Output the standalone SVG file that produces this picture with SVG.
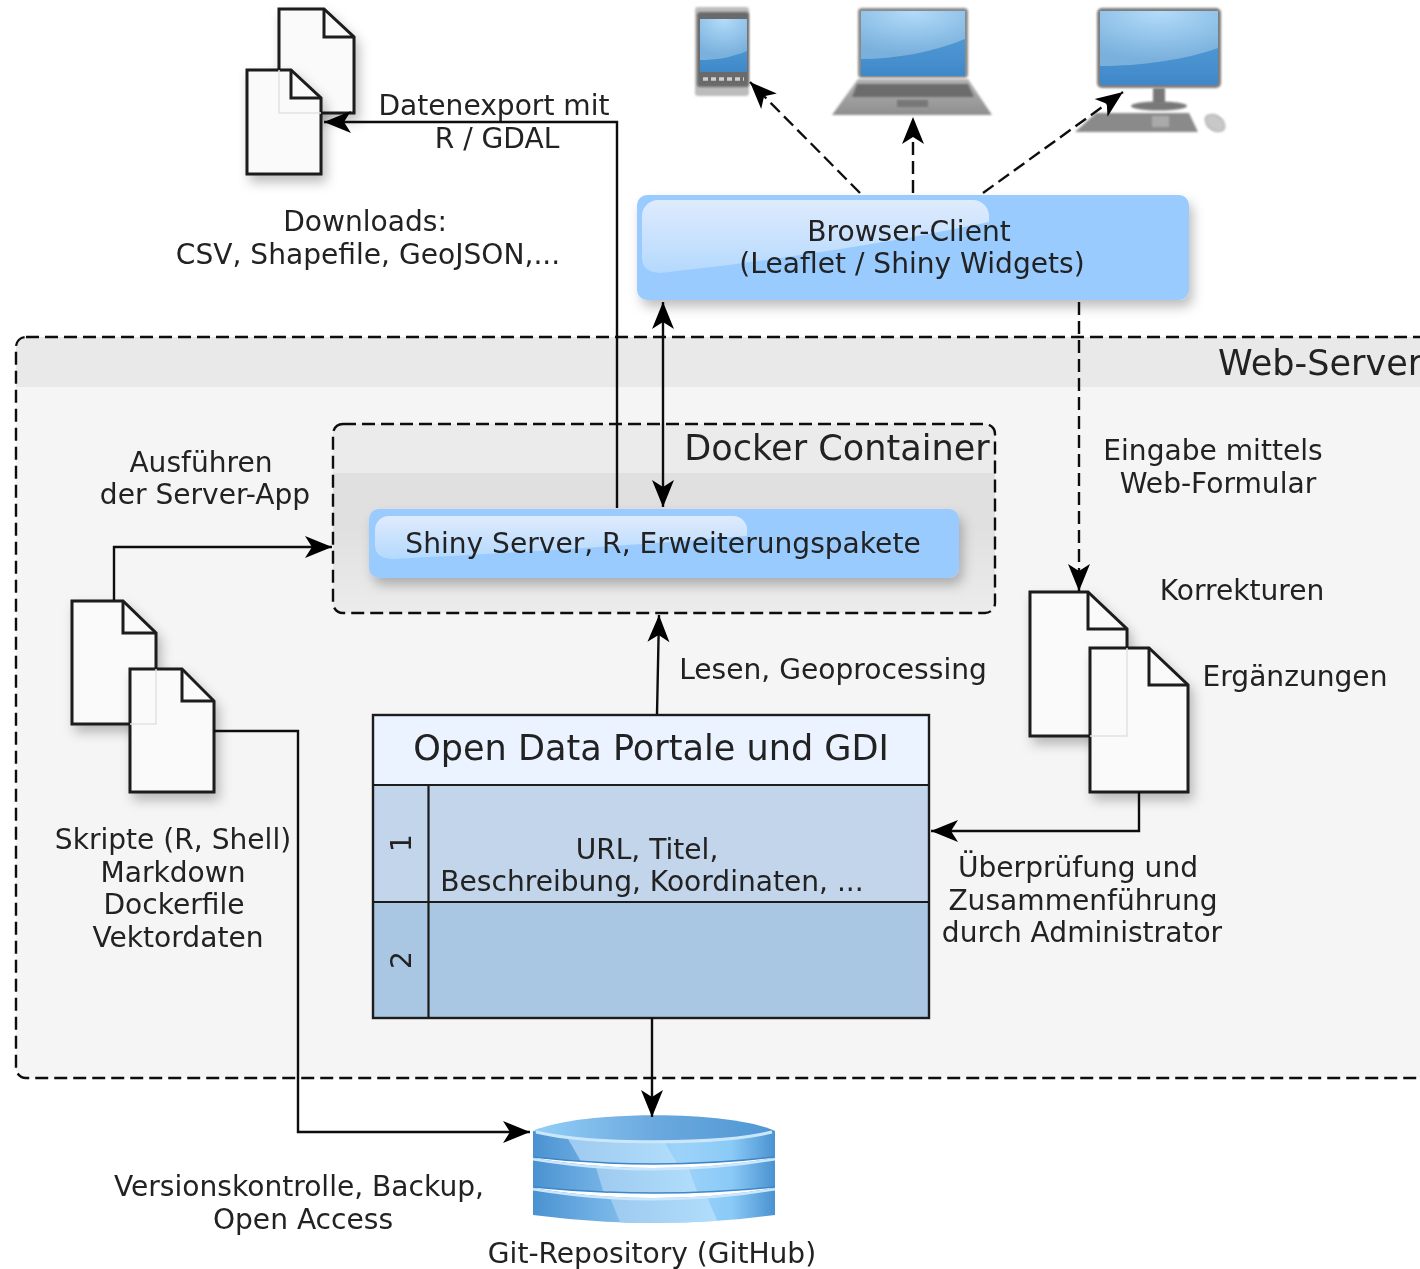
<svg xmlns="http://www.w3.org/2000/svg" width="1420" height="1269" viewBox="0 0 1420 1269">
<style>
text{font-family:"DejaVu Sans",sans-serif;font-size:28.1px;fill:#222;text-anchor:middle}
.big{font-size:35.1px}
.doc{fill:#fafafa;stroke:#1c1c1c;stroke-width:3;stroke-linejoin:miter}
.fold{fill:none;stroke:#1c1c1c;stroke-width:3}
.over{fill:none;stroke:#e2e2e2;stroke-width:1.5}
.c{fill:none;stroke:#111;stroke-width:2.4}
.d{stroke-dasharray:13 6}
.e{marker-end:url(#a)}
.s{marker-start:url(#as)}
.rim{fill:none;stroke:#cbe7fd;stroke-width:3}
.edge{fill:none;stroke:#3f86c6;stroke-width:1.5}
</style>
<defs>
<marker id="a" viewBox="0 0 30 24" refX="29" refY="12" markerWidth="30" markerHeight="24" markerUnits="userSpaceOnUse" orient="auto"><path d="M29 12 L2 1 L9 12 L2 23Z" fill="#000"/></marker>
<marker id="as" viewBox="0 0 30 24" refX="1" refY="12" markerWidth="30" markerHeight="24" markerUnits="userSpaceOnUse" orient="auto"><path d="M1 12 L28 1 L21 12 L28 23Z" fill="#000"/></marker>
<filter id="all" x="0" y="0" width="1420" height="1269" filterUnits="userSpaceOnUse"><feGaussianBlur stdDeviation=".7"/></filter>
<filter id="sh" x="-15%" y="-15%" width="140%" height="140%"><feDropShadow dx="4" dy="7" stdDeviation="6" flood-color="#000" flood-opacity=".25"/></filter>
<filter id="b" x="-10%" y="-10%" width="120%" height="120%"><feGaussianBlur stdDeviation=".8"/></filter>
<linearGradient id="g1" x1="0" y1="0" x2="0" y2="1"><stop offset="0" stop-color="#dfebfd"/><stop offset="1" stop-color="#b4d9fd"/></linearGradient>
<linearGradient id="dockb" x1="0" y1="0" x2="0" y2="1"><stop offset="0" stop-color="#e0e0e0"/><stop offset=".55" stop-color="#e0e0e0"/><stop offset="1" stop-color="#ececec"/></linearGradient>
<linearGradient id="scr" x1="0" y1="0" x2="0" y2="1"><stop offset="0" stop-color="#5da4dc"/><stop offset="1" stop-color="#3f88c9"/></linearGradient>
<radialGradient id="glare" cx=".5" cy="0" r=".9"><stop offset="0" stop-color="#b3dcfa"/><stop offset="1" stop-color="#79b0dc"/></radialGradient>
<linearGradient id="cyl" x1="0" y1="0" x2="1" y2="0"><stop offset="0" stop-color="#4a92d0"/><stop offset=".2" stop-color="#68a9e0"/><stop offset=".6" stop-color="#9ed3f9"/><stop offset=".82" stop-color="#8acaf7"/><stop offset="1" stop-color="#4a92d0"/></linearGradient>
<linearGradient id="cyt" x1="0" y1="0" x2="1" y2="0"><stop offset="0" stop-color="#93cff8"/><stop offset=".5" stop-color="#6ba9de"/><stop offset="1" stop-color="#4f97d4"/></linearGradient>
<linearGradient id="hl" x1="0" y1="0" x2="1" y2="0"><stop offset="0" stop-color="#9cc9ee"/><stop offset="1" stop-color="#b2defc"/></linearGradient>
<linearGradient id="lb" x1="0" y1="0" x2="0" y2="1"><stop offset="0" stop-color="#b2b2b2"/><stop offset="1" stop-color="#8f8f8f"/></linearGradient>
<clipPath id="cl"><rect x="0" y="330" width="1420" height="760"/></clipPath>
<clipPath id="b1"><path d="M533 1131H775V1157Q654 1171 533 1157Z"/></clipPath>
<clipPath id="b2"><path d="M533 1158Q654 1178 775 1158V1187Q654 1199 533 1187Z"/></clipPath>
<clipPath id="b3"><path d="M533 1188Q654 1208 775 1188V1215Q654 1231 533 1215Z"/></clipPath>
</defs>
<g filter="url(#all)">
<g id="web-server">
<g clip-path="url(#cl)">
<rect x="16" y="337" width="1460" height="741" rx="10" fill="#f5f5f5"/>
<path d="M16 387V347a10 10 0 0 1 10-10H1420V387Z" fill="#e9e9e9"/>
<rect x="16" y="337" width="1460" height="741" rx="10" fill="none" stroke="#111" stroke-width="2.4" stroke-dasharray="13 6"/>
</g>
<text class="big" x="1218" y="375" style="text-anchor:start">Web-Server</text>
</g>

<g id="docker-container">
<rect x="333" y="424" width="662" height="189" rx="10" fill="url(#dockb)"/>
<path d="M333 473V434a10 10 0 0 1 10-10H985a10 10 0 0 1 10 10V473Z" fill="#ebebeb"/>
<rect x="333" y="424" width="662" height="189" rx="10" fill="none" stroke="#111" stroke-width="2.4" stroke-dasharray="13 6"/>
<text class="big" x="837" y="460">Docker Container</text>
</g>

<g id="shiny-server">
<rect x="369" y="509" width="590" height="69" rx="10" fill="#99cbff" filter="url(#sh)"/>
<path d="M375 530a14 14 0 0 1 14-14H733a14 14 0 0 1 14 14V536C640 545 500 554 392 559Q375 558 375 545Z" fill="url(#g1)"/>
<text x="663" y="553">Shiny Server, R, Erweiterungspakete</text>
</g>

<g id="browser-client">
<rect x="637" y="195" width="552" height="105" rx="10" fill="#99cbff" filter="url(#sh)"/>
<path d="M642 216a16 16 0 0 1 16-16H973a16 16 0 0 1 16 16V222C880 245 760 262 660 273Q642 272 642 258Z" fill="url(#g1)"/>
<text x="909" y="241">Browser-Client</text>
<text x="912" y="273">(Leaflet / Shiny Widgets)</text>
</g>

<g id="phone">
<rect x="695" y="7" width="54" height="89" rx="3" fill="#bcbcbc" filter="url(#b)"/>
<rect x="697" y="12" width="52" height="75" rx="3" fill="#6a6a6a" filter="url(#b)"/>
<rect x="700" y="19" width="47" height="53" fill="url(#scr)"/>
<path d="M700 19H747V51C730 58 715 60 700 60Z" fill="url(#glare)"/>
<path d="M703 79H744" stroke="#cfcfcf" stroke-width="3.500" stroke-dasharray="5 3"/>
</g>

<g id="laptop">
<rect x="858" y="8" width="110" height="70" rx="4" fill="#8a8a8a" filter="url(#b)"/>
<rect x="861" y="11" width="104" height="65" rx="1" fill="url(#scr)"/>
<path d="M861 11H965V39C935 52 895 59 861 59Z" fill="url(#glare)"/>
<path d="M858 79H968L992 115H832Z" fill="url(#lb)" filter="url(#b)"/>
<path d="M857 84H968L974 97H852Z" fill="#6c6c6c" filter="url(#b)"/>
<rect x="897" y="100" width="31" height="7" fill="#777" filter="url(#b)"/>
</g>

<g id="desktop">
<rect x="1097" y="8" width="124" height="80" rx="5" fill="#7d7d7d" filter="url(#b)"/>
<rect x="1100" y="11" width="118" height="74" rx="2" fill="url(#scr)"/>
<path d="M1100 11H1218V48C1185 60 1140 66 1100 66Z" fill="url(#glare)"/>
<rect x="1153" y="88" width="12" height="16" fill="#787878" filter="url(#b)"/>
<ellipse cx="1159" cy="106" rx="28" ry="4.500" fill="#787878" filter="url(#b)"/>
<path d="M1096 113H1189L1198 132H1075Z" fill="#8a8a8a" filter="url(#b)"/>
<rect x="1152" y="116" width="17" height="11" fill="#aaa" filter="url(#b)"/>
<ellipse cx="1215" cy="123" rx="11" ry="7.500" transform="rotate(35 1215 123)" fill="#c8c8c8" stroke="#9a9a9a" filter="url(#b)"/>
</g>

<g id="download-docs">
<g filter="url(#sh)"><path class="doc" d="M279 9H324L354 37V113H279Z"/></g>
<path class="fold" d="M324 9V37H354"/>
<g filter="url(#sh)"><path class="doc" d="M247 70H291L321 98V174H247Z"/></g>
<path class="fold" d="M291 70V98H321"/>
<path class="over" d="M279 70V113H321"/>
<text x="365" y="231">Downloads:</text>
<text x="368" y="264">CSV, Shapefile, GeoJSON,...</text>
</g>

<g id="script-docs">
<g filter="url(#sh)"><path class="doc" d="M72 601H123L156 633V724H72Z"/></g>
<path class="fold" d="M123 601V633H156"/>
<g filter="url(#sh)"><path class="doc" d="M130 669H182L214 701V792H130Z"/></g>
<path class="fold" d="M182 669V701H214"/>
<path class="over" d="M156 669V724H130"/>
<text x="173" y="849">Skripte (R, Shell)</text>
<text x="173" y="882">Markdown</text>
<text x="174" y="914">Dockerfile</text>
<text x="178" y="947">Vektordaten</text>
</g>

<g id="correction-docs">
<g filter="url(#sh)"><path class="doc" d="M1030 592H1088L1127 629V736H1030Z"/></g>
<path class="fold" d="M1088 592V629H1127"/>
<g filter="url(#sh)"><path class="doc" d="M1090 648H1149L1188 685V792H1090Z"/></g>
<path class="fold" d="M1149 648V685H1188"/>
<path class="over" d="M1127 648V736H1090"/>
<text x="1242" y="600">Korrekturen</text>
<text x="1295" y="686">Ergänzungen</text>
</g>

<g id="open-data">
<rect x="373" y="715" width="556" height="70" fill="#eaf3ff"/>
<rect x="373" y="785" width="556" height="117" fill="#c3d5ea"/>
<rect x="373" y="902" width="556" height="116" fill="#a9c6e2"/>
<path d="M373 785H929M373 902H929M428.500 785V1018" stroke="#1a1a1a" stroke-width="2.2" fill="none"/>
<rect x="373" y="715" width="556" height="303" fill="none" stroke="#1a1a1a" stroke-width="2.4"/>
<text class="big" x="651" y="760">Open Data Portale und GDI</text>
<text x="647" y="859">URL, Titel,</text>
<text x="652" y="891">Beschreibung, Koordinaten, ...</text>
<text transform="translate(411 843) rotate(-90)">1</text>
<text transform="translate(411 960) rotate(-90)">2</text>
</g>

<g id="git-repo">
<g clip-path="url(#b3)">
<rect x="533" y="1185" width="242" height="50" fill="url(#cyl)"/>
<path d="M605 1185H702L722 1232H624Z" fill="url(#hl)"/>
<path class="rim" d="M533 1189Q654 1209 775 1189"/>
</g>
<g clip-path="url(#b2)">
<rect x="533" y="1155" width="242" height="50" fill="url(#cyl)"/>
<path d="M592 1155H684L700 1200H606Z" fill="url(#hl)"/>
<path class="rim" d="M533 1159Q654 1179 775 1159"/>
</g>
<path class="edge" d="M533 1187Q654 1199 775 1187"/>
<g clip-path="url(#b1)">
<rect x="533" y="1125" width="242" height="50" fill="url(#cyl)"/>
<path d="M560 1125H655L682 1172H587Z" fill="url(#hl)"/>
</g>
<path class="edge" d="M533 1157Q654 1171 775 1157"/>
<path d="M533 1131C580 1110 730 1110 775 1131C730 1145 580 1145 533 1131Z" fill="url(#cyt)"/>
<path class="rim" d="M536 1132C590 1145 720 1145 772 1132"/>
<text x="652" y="1263">Git-Repository (GitHub)</text>
</g>

<g id="connectors">
<path class="c d e" d="M860 193L750 82"/>
<path class="c d e" d="M913 193V117"/>
<path class="c d e" d="M983 193L1123 92"/>
<path class="c e" d="M617 508V122H324"/>
<path class="c e s" d="M663 302V507"/>
<path class="c d e" d="M1079 302V591"/>
<path class="c e" d="M114 600V547H332"/>
<path class="c e" d="M657 714L659 615"/>
<path class="c e" d="M1139 792V831H931"/>
<path class="c e" d="M214 731H298V1132H530"/>
<path class="c e" d="M652 1018V1117"/>
</g>

<g id="labels">
<text x="494" y="115">Datenexport mit</text>
<text x="497" y="148">R / GDAL</text>
<text x="201" y="472">Ausführen</text>
<text x="205" y="504">der Server-App</text>
<text x="1213" y="460">Eingabe mittels</text>
<text x="1218" y="493">Web-Formular</text>
<text x="833" y="679">Lesen, Geoprocessing</text>
<text x="1078" y="877">Überprüfung und</text>
<text x="1083" y="910">Zusammenführung</text>
<text x="1082" y="942">durch Administrator</text>
<text x="299" y="1196">Versionskontrolle, Backup,</text>
<text x="303" y="1229">Open Access</text>
</g>
</g>
</svg>
